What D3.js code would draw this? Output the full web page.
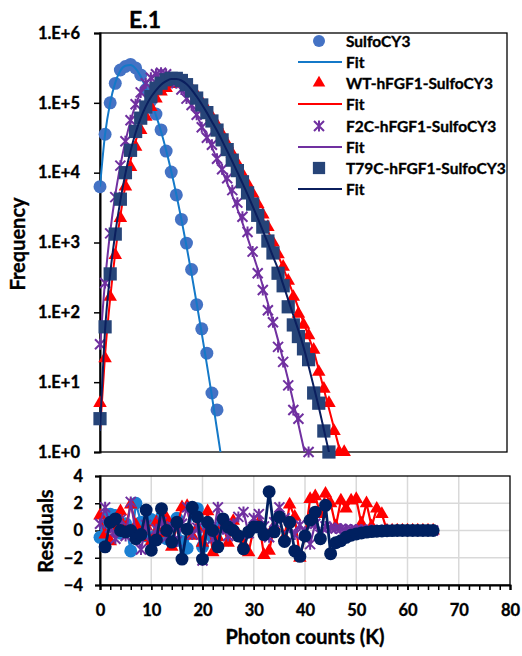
<!DOCTYPE html>
<html><head><meta charset="utf-8">
<script src="https://cdn.jsdelivr.net/npm/d3@7"></script>
<style>
body{margin:0;background:#fff}
text{font-family:Lato,'Open Sans',sans-serif;font-weight:700;fill:#000;stroke:#000;stroke-width:0.35px;paint-order:stroke}
</style>
</head><body><svg id="c" width="522" height="656"></svg>
<script>
// ---------- data ----------
const counts = [0,1,2,3,4,5,6,7,8,9,10,11,12,13,14,15,16,17,18,19,20,21,22,23,24,25,26,27,28,29,30,31,32,33,34,35,36,37,38,39,40,41,42,43,44,45,46,47,48,49,50,51,52,53,54,55,56,57,58,59,60,61,62,63,64,65];

const sulfoFreq = [6300,35500,100000,190000,295000,331000,355000,316000,251000,155000,107000,69000,41000,20400,10200,4800,2140,980,410,129,58,26,7,4];
const sulfoFit  = [6300,35500,100000,195000,288000,339000,347000,309000,240000,162000,105000,66000,38900,20900,10500,4900,2140,890,355,135,50,18,6.3,2.1,0.7];

const wtFreq = [5,22,166,660,2240,6300,12000,23400,40700,63000,87000,115000,145000,162000,186000,200000,200000,186000,158000,129000,102000,81000,63000,48000,35500,25700,18600,13500,9500,6900,5000,3550,2510,1660,1000,676,447,282,166,95,66,47,29,14,8,5,2,1,1];
const wtFit  = [2,25,158,708,2400,6600,14800,28200,46800,70800,95500,123000,148000,170000,186000,195000,195000,182000,158000,132000,105000,81300,63100,47900,35500,25700,18600,13200,9330,6610,4570,3160,2190,1480,1000,661,437,282,182,115,72,45,28,15,7.9,4.2,2.2,1.15,0.56];

const f2cFreq = [35,263,1350,4470,12600,28200,56200,95500,141000,191000,229000,257000,269000,257000,229000,191000,155000,115000,93300,67600,44700,31600,25100,15800,11200,8300,5620,3720,2340,1410,741,363,209,107,72,32,19.5,9,4,3,null,1];
const f2cFit  = [32,282,1410,4790,12600,28200,55000,93300,141000,186000,224000,251000,263000,251000,224000,191000,155000,120000,91200,66100,46800,33100,22900,15800,10700,7080,4680,3020,1910,1170,708,417,240,135,74,40,21,10.7,5.2,2.5,1.17,0.55];

const t79Freq = [3,62,355,1320,4170,10000,20900,38900,60300,87100,123000,162000,191000,214000,224000,224000,209000,182000,148000,117000,93300,72400,55000,40700,29500,21400,15100,10700,7400,5130,3550,2450,1660,1050,708,363,240,120,66,45,30,21,7,5,2,1];
const t79Fit  = [2,56,355,1350,3980,9770,20400,37200,60300,89100,120000,151000,182000,204000,219000,219000,209000,186000,155000,123000,95500,72400,53700,39800,28800,20400,14500,10200,7080,4900,3310,2240,1480,977,631,417,251,151,91,55,32,17,8.7,4.4,2.1,1,0.5];

// residuals (start at photon count 0, T79C at 1)
const sulfoRes = [-0.5,0.3,1.2,1.1,-0.2,0.5,-1.5,2.0,0.6,-0.4,0.8,-0.3,1.0,-0.6,0.4,0.9,-0.8,-1.3,1.6,1.6,-1.2,0.3,-0.5,0.2];
const wtRes = [1.1,-0.3,-0.8,0.5,1.4,0.2,1.9,0.4,-0.5,0.3,-0.8,0.6,-0.2,0.9,-1.2,0.3,1.7,1.8,-0.4,0.2,-0.9,1.4,-1.6,-0.5,0.4,-0.9,0.7,-0.3,-1.0,-1.6,0.2,0.6,-1.8,-1.5,0.3,0.9,-0.5,1.9,1.0,-2.0,-0.4,2.3,2.5,1.2,2.7,2.0,0.3,2.2,1.6,2.2,2.3,0.5,2.0,0.3,1.6,1.2,0,0,0,0,0,0,0,0,0,0];
const f2cRes = [0.5,1.7,0.2,-0.6,0.8,-0.4,2.1,-0.2,-1.4,0.4,-0.9,0.1,0.6,-0.5,0.3,-0.8,0.5,1.7,-0.3,0.2,-2.2,0.4,-0.6,1.7,0.1,-0.4,0.5,1.0,1.35,-0.2,0.9,1.2,0.3,-0.5,0.6,1.7,0.9,0.2,-0.3,0.4,-0.1,-1.0,0.5,-0.3,0.3,0.2,0.15,0.12,0.1,0.08,0.06,0.05,0.04,0.03,0.02,0.02,0.01,0.01,0.01,0,0,0,0,0,0,0];
const t79Res = [-1.2,0.6,0.85,0.0,-0.1,0.0,-0.6,-0.3,1.5,-1.45,-0.7,1.6,0.0,-0.85,0.6,-2.1,0.1,1.7,1.0,-2.1,0.6,0.0,-1.2,0.85,0.25,0.0,-0.4,-1.35,-0.1,0.25,0.25,-0.3,2.85,-0.1,1.0,-0.8,0.6,-1.5,-1.9,-0.4,0.75,1.35,-0.6,1.85,-1.7,-0.9,-0.75,-0.5,-0.35,-0.25,-0.18,-0.12,-0.08,-0.05,-0.03,-0.02,-0.01,0,0,0,0,0,0,0,0];

const yTickVals = [1,10,100,1000,10000,100000,1000000];
const yTickLabels = ["1.E+0","1.E+1","1.E+2","1.E+3","1.E+4","1.E+5","1.E+6"];
const resTicks = [-4,-2,0,2,4];
const xLabelTicks = [0,10,20,30,40,50,60,70,80];
const xMinorTicks = [0,2,4,6,8,10,12,14,16,18,20,22,24,26,28,30,32,34,36,38,40,42,44,46,48,50,52,54,56,58,60,62,64,66,68,70,72,74,76,78,80];
const legendLabels = ["SulfoCY3","Fit","WT-hFGF1-SulfoCY3","Fit","F2C-hFGF1-SulfoCY3","Fit","T79C-hFGF1-SulfoCY3","Fit"];

// ---------- styles ----------
const C = {
  sulfoM:"#4472C4", sulfoL:"#1479C8", sulfoR:"#1A7FD2",
  red:"#FF0000", purple:"#7030A0", navyM:"#264478", navyL:"#0B1F5E", navyR:"#002060"
};

const svg = d3.select("#c");
const xM = d3.scaleLinear().domain([0,80]).range([100,507]);
const yM = d3.scaleLog().domain([1,1e6]).range([452,33]);
const xR = d3.scaleLinear().domain([0,80]).range([100,510]);
const yR = d3.scaleLinear().domain([-4,4]).range([585,476]);

svg.append("defs").append("clipPath").attr("id","clipM")
  .append("rect").attr("x",xM(0)).attr("y",yM(1e6)).attr("width",xM(80)-xM(0)).attr("height",yM(1)-yM(1e6));

function styleText(sel, size){
  sel.style("font-size",size).style("font-family","Lato").style("font-weight","700")
     .attr("fill","#000").attr("stroke","#000").attr("stroke-width",0.35).style("paint-order","stroke");
}

// ---------- main panel ----------
svg.append("rect").attr("x",xM(0)).attr("y",yM(1e6)).attr("width",xM(80)-xM(0)).attr("height",yM(1)-yM(1e6))
  .attr("fill","none").attr("stroke","#000").attr("stroke-width",1.3);

const yAx = svg.append("g").attr("transform",`translate(${xM(0)},0)`)
  .call(d3.axisLeft(yM).tickValues(yTickVals).tickFormat((d,i)=>yTickLabels[i]).tickSize(6).tickPadding(14));
yAx.select(".domain").attr("stroke","#000").attr("stroke-width",2);
yAx.selectAll(".tick line").attr("stroke","#000").attr("stroke-width",1.5);
styleText(yAx.selectAll("text"),"16.5px");

const mainG = svg.append("g");

function fitLine(vals, color, w){
  const pts = vals.map((v,i)=>[counts[i],v]);
  mainG.append("g").attr("clip-path","url(#clipM)").append("path").datum(pts)
    .attr("d", d3.line().x(d=>xM(d[0])).y(d=>yM(Math.max(d[1],0.05))).curve(d3.curveMonotoneX))
    .attr("fill","none").attr("stroke",color).attr("stroke-width",w);
}
function markers(g, vals, xs, xS, yS, kind, color, big){
  const pts = vals.map((v,i)=>[xs[i],v]).filter(d=>d[1]!==null);
  const sel = g.append("g").selectAll("g").data(pts).join("g")
    .attr("transform",d=>`translate(${xS(d[0])},${yS(d[1])})`);
  drawMarker(sel, kind, color, big);
}
function drawMarker(sel, kind, color, big){
  const s = big ? 1.08 : 1;
  if(kind==="circle") sel.append("circle").attr("r",6*s).attr("fill",color);
  if(kind==="tri") sel.append("path").attr("d",d3.symbol(d3.symbolTriangle,68*s*s)()).attr("fill",color);
  if(kind==="square") sel.append("path").attr("d",d3.symbol(d3.symbolSquare,150*s*s)()).attr("fill",color);
  if(kind==="star") sel.append("path").attr("d","M-5,-5L5,5M-5,5L5,-5M0,-5.5L0,5.5")
      .attr("stroke",color).attr("stroke-width",2).attr("fill","none");
}

// draw order following the legend
markers(mainG, sulfoFreq, counts, xM, yM, "circle", C.sulfoM, true);
fitLine(sulfoFit, C.sulfoL, 2);
markers(mainG, wtFreq, counts, xM, yM, "tri", C.red, true);
fitLine(wtFit, C.red, 2);
markers(mainG, f2cFreq, counts, xM, yM, "star", C.purple, true);
fitLine(f2cFit, C.purple, 2);
markers(mainG, t79Freq, counts, xM, yM, "square", C.navyM, true);
fitLine(t79Fit, C.navyL, 2);

// title
styleText(svg.append("text").attr("x",129).attr("y",28).text("E.1"),"23px");
// y label
styleText(svg.append("text").attr("transform","translate(25,244) rotate(-90)").attr("text-anchor","middle").text("Frequency"),"20px");

// legend
const legY = [41,62,83,104,126,147,168,189];
const legKinds = [["circle",C.sulfoM],["line",C.sulfoL],["tri",C.red],["line",C.red],["star",C.purple],["line",C.purple],["square",C.navyM],["line",C.navyL]];
legendLabels.forEach((lab,i)=>{
  const g = svg.append("g").attr("transform",`translate(0,${legY[i]})`);
  const [k,c] = legKinds[i];
  if(k==="line") g.append("line").attr("x1",298).attr("x2",342).attr("stroke",c).attr("stroke-width",2);
  else { const m = g.append("g").attr("transform","translate(319,0)"); drawMarker(m,k,c,false); }
  styleText(g.append("text").attr("x",346).attr("dy","0.36em").text(lab),"15.5px");
});

// ---------- residual panel ----------
const grid = svg.append("g");
xLabelTicks.filter(d=>d>0&&d<80).forEach(d=>grid.append("line").attr("x1",xR(d)).attr("x2",xR(d)).attr("y1",yR(-4)).attr("y2",yR(4)).attr("stroke","#d9d9d9").attr("stroke-width",1.5));
resTicks.filter(d=>d>-4&&d<4).forEach(d=>grid.append("line").attr("x1",xR(0)).attr("x2",xR(80)).attr("y1",yR(d)).attr("y2",yR(d)).attr("stroke","#d9d9d9").attr("stroke-width",1.5));
svg.append("rect").attr("x",xR(0)).attr("y",yR(4)).attr("width",xR(80)-xR(0)).attr("height",yR(-4)-yR(4))
  .attr("fill","none").attr("stroke","#000").attr("stroke-width",1.3);

const ryAx = svg.append("g").attr("transform",`translate(${xR(0)},0)`)
  .call(d3.axisLeft(yR).tickValues(resTicks).tickFormat(d3.format("d")).tickSize(5).tickPadding(12));
ryAx.select(".domain").attr("stroke","#000").attr("stroke-width",2);
ryAx.selectAll(".tick line").attr("stroke","#000").attr("stroke-width",1.5);
styleText(ryAx.selectAll("text"),"16.5px");

const rxMinor = svg.append("g").attr("transform",`translate(0,${yR(-4)})`)
  .call(d3.axisBottom(xR).tickValues(xMinorTicks).tickFormat("").tickSize(5));
rxMinor.select(".domain").attr("stroke","#000").attr("stroke-width",2);
rxMinor.selectAll(".tick line").attr("stroke","#000").attr("stroke-width",1.5);
const rxAx = svg.append("g").attr("transform",`translate(0,${yR(-4)})`)
  .call(d3.axisBottom(xR).tickValues(xLabelTicks).tickFormat(d3.format("d")).tickSize(5).tickPadding(14));
rxAx.select(".domain").remove();
rxAx.selectAll(".tick line").attr("stroke","#000").attr("stroke-width",1.5);
styleText(rxAx.selectAll("text"),"16.5px");

const resG = svg.append("g");
function resSeries(vals, xs, kind, color, w){
  const pts = vals.map((v,i)=>[xs[i],v]);
  resG.append("path").datum(pts).attr("d",d3.line().x(d=>xR(d[0])).y(d=>yR(d[1])))
    .attr("fill","none").attr("stroke",color).attr("stroke-width",w);
  markers(resG, vals, xs, xR, yR, kind, color, true);
}
resSeries(sulfoRes, counts, "circle", C.sulfoR, 2.2);
resSeries(wtRes, counts, "tri", C.red, 2.2);
resSeries(f2cRes, counts, "star", C.purple, 2.2);
resSeries(t79Res, counts.slice(1), "circle", C.navyR, 2.8);

styleText(svg.append("text").attr("transform","translate(53,531) rotate(-90)").attr("text-anchor","middle").text("Residuals"),"20px");
styleText(svg.append("text").attr("x",305).attr("y",644).attr("text-anchor","middle").text("Photon counts (K)"),"20px");
</script>
</body></html>
